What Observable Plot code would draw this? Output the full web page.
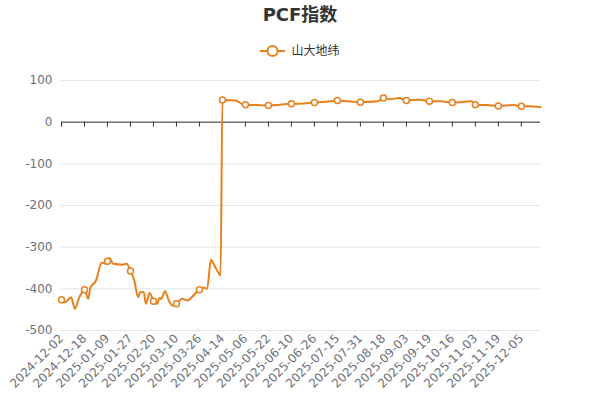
<!DOCTYPE html>
<html>
<head>
<meta charset="utf-8">
<script src="https://cdn.jsdelivr.net/npm/d3@7"></script>
<script src="https://cdn.jsdelivr.net/npm/@observablehq/plot@0.6"></script>
<style>
  html, body { margin: 0; padding: 0; background: #fff; }
  #wrap { position: relative; width: 600px; height: 400px; font-family: "DejaVu Sans", "Noto Sans CJK SC", sans-serif; }
  #title { position: absolute; top: 3px; left: 0; width: 600px; text-align: center; font-size: 18px; font-weight: bold; color: #333; line-height: 24px; }
  #legend { position: absolute; top: 42px; left: 0; width: 600px; display: flex; justify-content: center; align-items: center; font-size: 12px; color: #333; line-height: 18px; }
  #legend svg { margin-right: 6px; }
  #chart { position: absolute; top: 65px; left: 0; }
</style>
</head>
<body>
<div id="wrap">
  <div id="title">PCF指数</div>
  <div id="legend"></div>
  <div id="chart"></div>
</div>
<script>
// Series name
const seriesName = "山大地纬";
// x-axis tick labels (one every 12 categories)
const tickLabels = [
  "2024-12-02","2024-12-18","2025-01-09","2025-01-27","2025-02-20","2025-03-10",
  "2025-03-26","2025-04-14","2025-05-06","2025-05-22","2025-06-10","2025-06-26",
  "2025-07-15","2025-07-31","2025-08-18","2025-09-03","2025-09-19","2025-10-16",
  "2025-11-03","2025-11-19","2025-12-05"
];
const labelStep = 12;
const lastIndex = 250;
// category index of sampled points
const pointIndex = [
  0, 2, 5, 7, 9, 12, 14, 15, 18, 21, 23, 24, 25, 27, 32, 34, 36, 38, 40, 41,
  43, 44, 46, 48, 50, 51, 52, 54, 56, 58, 60, 63, 66, 68, 72, 74, 76, 78, 80, 82,
  83, 84, 91, 94, 96, 102, 108, 114, 120, 124, 132, 138, 144, 149, 156, 165, 168, 172, 176, 180,
  187, 192, 198, 204, 214, 216, 222, 228, 236, 240, 244, 250
];
// PCF index values
const pointValue = [
  -426, -432, -420, -448, -424, -402, -424, -398, -380, -337, -340, -334, -326, -340, -342, -340, -357, -380, -420, -408,
  -408, -436, -410, -430, -436, -422, -424, -406, -428, -440, -436, -424, -428, -420, -402, -397, -400, -330, -346, -362,
  -368, 53, 52, 44, 42, 41, 40, 42, 44, 44, 47, 49, 52, 50, 48, 50, 58, 55, 58, 52,
  54, 50, 50, 47, 50, 42, 41, 39, 41, 38, 38, 36
];
const yTicks = [-500, -400, -300, -200, -100, 0, 100];
const color = "#e8801e";

const data = pointIndex.map((i, k) => ({i, v: pointValue[k]}));
const markers = data.filter(d => d.i % labelStep === 0);
const labelIdx = tickLabels.map((_, k) => k * labelStep);

// legend
const leg = document.getElementById("legend");
leg.innerHTML = `<svg width="25" height="14"><line x1="0" y1="7" x2="25" y2="7" stroke="${color}" stroke-width="2"/><circle cx="12.5" cy="7" r="5" fill="#fff" stroke="${color}" stroke-width="2"/></svg><span>${seriesName}</span>`;

const chart = Plot.plot({
  width: 600,
  height: 335,
  marginTop: 15,
  marginBottom: 70,
  marginLeft: 61,
  marginRight: 60,
  style: {fontFamily: '"DejaVu Sans", "Noto Sans CJK SC", sans-serif', fontSize: "12px", background: "#fff"},
  x: {domain: [0, lastIndex]},
  y: {domain: [-500, 100]},
  marks: [
    Plot.gridY(yTicks, {stroke: "#e0e6f1", strokeOpacity: 1}),
    Plot.axisY(yTicks, {tickSize: 0, tickPadding: 9, tickFormat: d => String(d), fill: "#6e7079", fontSize: 12, label: null}),
    Plot.axisX(labelIdx, {tickSize: 0, tickPadding: 6, tickRotate: -45, tickFormat: i => tickLabels[i / labelStep], fill: "#6e7079", fontSize: 12, label: null}),
    Plot.ruleY([0], {stroke: "#333", strokeWidth: 1}),
    Plot.ruleX(labelIdx, {y1: 0, y2: -12, stroke: "#333", strokeWidth: 1}),
    Plot.line(data, {x: "i", y: "v", stroke: color, strokeWidth: 2, curve: "monotone-x"}),
    Plot.dot(markers, {x: "i", y: "v", r: 3, fill: "#fff", stroke: color, strokeWidth: 1.5})
  ]
});
document.getElementById("chart").appendChild(chart);
</script>
</body>
</html>
